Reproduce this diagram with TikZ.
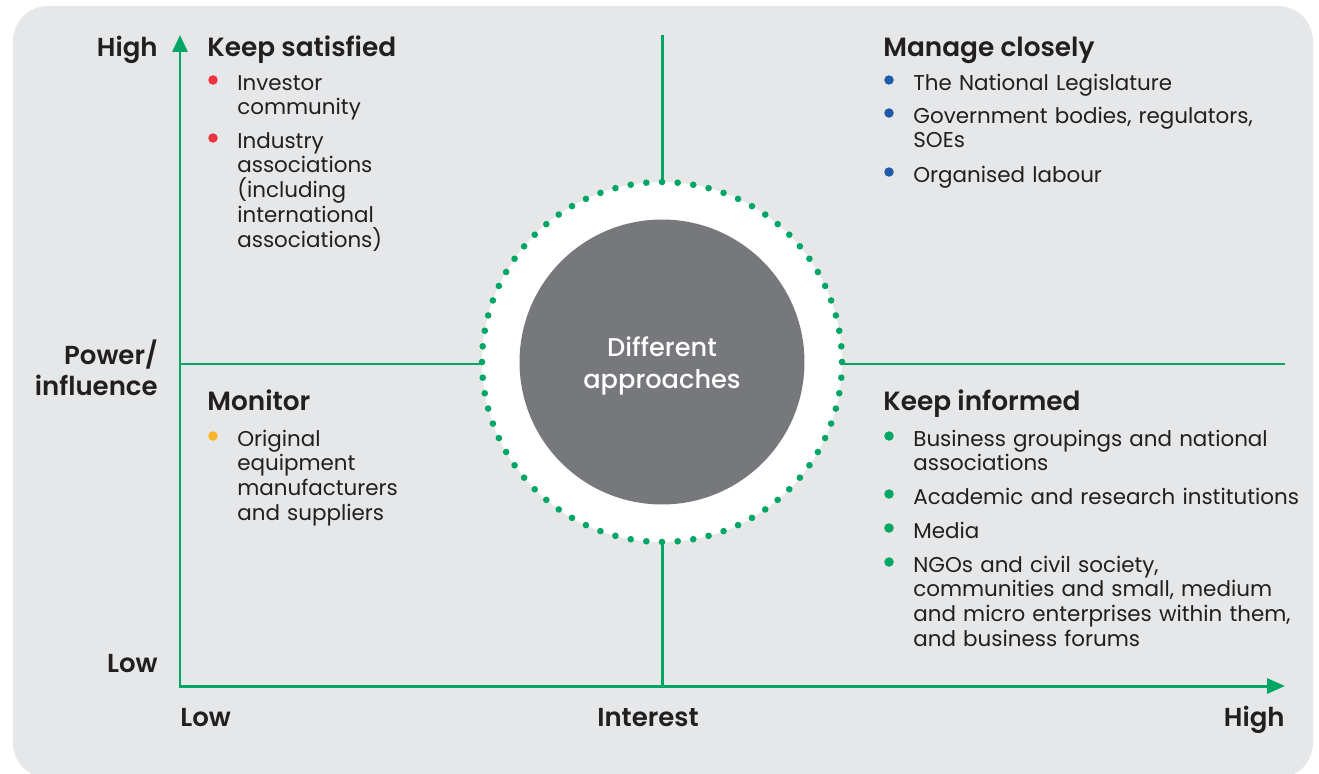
\documentclass[tikz,border=0pt]{standalone}
\usepackage{fontspec}
\setmainfont{Poppins}
\newfontfamily\mediumfont{Poppins Medium}
\newfontfamily\semiboldfont{Poppins SemiBold}
\usepackage{tikz}
\usetikzlibrary{arrows.meta}
\definecolor{sfondoGrigio}{RGB}{230, 231, 232}
\definecolor{verdeAsse}{RGB}{0, 166, 100}
\definecolor{grigioCerchio}{RGB}{119, 120, 123}
\definecolor{testoNero}{RGB}{35, 31, 32}
\definecolor{puntoRosso}{RGB}{238, 51, 66}
\definecolor{puntoBlu}{RGB}{31, 91, 168}
\definecolor{puntoGiallo}{RGB}{251, 180, 36}

\tikzset{
    axisline/.style={draw=verdeAsse, line width=1.7pt},
    heading/.style={font=\semiboldfont\fontsize{15}{17}\selectfont, text=testoNero, anchor=base west, inner sep=0pt},
    axislabel/.style={font=\semiboldfont\fontsize{14.8}{17.6}\selectfont, text=testoNero, inner sep=0pt},
    entry/.style={font=\fontsize{12.2}{14.2}\selectfont, text=testoNero, text width=10cm, align=left, anchor=base west, inner sep=0pt},
    bulletdot/.style={circle, inner sep=0pt, minimum size=0.19cm}
}

\begin{document}
\begin{tikzpicture}[x=0.02cm, y=-0.02cm]
    \useasboundingbox (0,0) rectangle (1319,774);

    % Background panel
    \fill[sfondoGrigio, rounded corners=0.7cm] (13,6) rectangle (1313,778);

    % Axes and quadrant lines
    \coordinate (origin) at (180,686);
    \coordinate (ytop) at (180,35);
    \coordinate (xend) at (1285,686);
    \coordinate (midtop) at (662,35);
    \coordinate (midbottom) at (662,686);
    \coordinate (midleft) at (180,364);
    \coordinate (midright) at (1285,364);
    \draw[axisline] (midtop) -- (midbottom);
    \draw[axisline] (midleft) -- (midright);
    \draw[axisline, {Triangle[length=0.34cm, width=0.3cm]}-{Triangle[length=0.36cm, width=0.3cm]}] (ytop) -- (origin) -- (xend);

    % Centre (white ring, dots, grey disc)
    \node[circle, fill=white, minimum size=7.2cm, inner sep=0pt] (ring) at (662,362) {};
    \foreach \a in {0,5,...,355}
        \fill[verdeAsse] (ring.center) ++(\a:3.6cm) circle (0.066cm);
    \node[circle, fill=grigioCerchio, minimum size=5.7cm, inner sep=0pt] (hub) at (662,362) {};
    \node[text=white, align=center, inner sep=0pt, anchor=base,
          font=\mediumfont\fontsize{14.6}{18.2}\selectfont] (hubtext) at (662,388) {Different\\approaches};

    % Axis labels
    \node[axislabel, anchor=base east] (yhigh) at (158,56) {High};
    \node[axislabel, anchor=base east, align=right] (ylabel) at (158,395) {Power/\\influence};
    \node[axislabel, anchor=base east] (ylow) at (158,672) {Low};
    \node[axislabel, anchor=base west] (xlow) at (180,726) {Low};
    \node[axislabel, anchor=base] (xlabel) at (648,726) {Interest};
    \node[axislabel, anchor=base east] (xhigh) at (1285,726) {High};

    % Keep satisfied
    \node[heading] (satisfied) at (207,56) {Keep satisfied};
    \node[bulletdot, fill=puntoRosso] (ks1dot) at (213,80) {};
    \node[entry] (ks1) at (237,90) {Investor\\community};
    \node[bulletdot, fill=puntoRosso] (ks2dot) at (213,138) {};
    \node[entry] (ks2) at (237,148) {Industry\\associations\\(including\\international\\associations)};

    % Manage closely
    \node[heading] (closely) at (883,56) {Manage closely};
    \node[bulletdot, fill=puntoBlu] (mc1dot) at (889,80) {};
    \node[entry] (mc1) at (913,90) {The National Legislature};
    \node[bulletdot, fill=puntoBlu] (mc2dot) at (889,113) {};
    \node[entry] (mc2) at (913,123) {Government bodies, regulators,\\SOEs};
    \node[bulletdot, fill=puntoBlu] (mc3dot) at (889,172) {};
    \node[entry] (mc3) at (913,182) {Organised labour};

    % Monitor
    \node[heading] (monitor) at (207,410) {Monitor};
    \node[bulletdot, fill=puntoGiallo] (mo1dot) at (213,436) {};
    \node[entry] (mo1) at (237,446) {Original\\equipment\\manufacturers\\and suppliers};

    % Keep informed
    \node[heading] (informed) at (883,410) {Keep informed};
    \node[bulletdot, fill=verdeAsse] (ki1dot) at (889,436) {};
    \node[entry] (ki1) at (913,446) {Business groupings and national\\associations};
    \node[bulletdot, fill=verdeAsse] (ki2dot) at (889,494) {};
    \node[entry] (ki2) at (913,504) {Academic and research institutions};
    \node[bulletdot, fill=verdeAsse] (ki3dot) at (889,528) {};
    \node[entry] (ki3) at (913,538) {Media};
    \node[bulletdot, fill=verdeAsse] (ki4dot) at (889,562) {};
    \node[entry] (ki4) at (913,572) {NGOs and civil society,\\communities and small, medium\\and micro enterprises within them,\\and business forums};
\end{tikzpicture}
\end{document}
